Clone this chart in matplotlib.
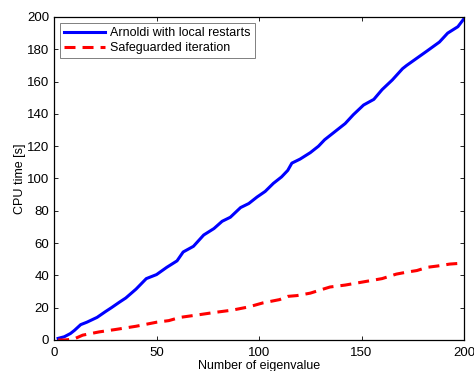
import matplotlib.pyplot as plt

# Arnoldi with local restarts (blue, solid)
arnoldi_n = [2, 5, 8, 10, 13, 16, 21, 25, 28, 32, 35, 40, 45, 50, 55, 60, 63, 68,
             73, 78, 82, 86, 91, 95, 99, 103, 107, 111, 114, 116, 120, 125, 129,
             132, 135, 138, 142, 146, 151, 156, 160, 165, 170, 172, 177, 182,
             188, 192, 197, 200]
arnoldi_t = [1, 2, 4, 6, 9.5, 11, 14, 17.5, 20, 23.5, 26, 31.5, 38, 40.5, 45, 49,
             54.5, 58, 65, 69, 73.5, 76, 82, 84.5, 88.5, 92, 97, 101, 105, 109.5,
             112, 116, 120, 124, 127, 130, 134, 139.5, 145.5, 149, 155, 161, 168,
             170, 174.5, 179, 184.5, 190, 194, 199]

# Safeguarded iteration (red, dashed)
safe_n = [2, 5, 9.5, 14, 22, 30, 40, 50, 56, 61.5, 70, 78, 87, 95, 102, 110,
          114, 118.5, 125, 130, 134.6, 142, 151, 160, 167, 172, 177, 182,
          187, 193, 199.5]
safe_t = [0, 0, 0.5, 3, 5, 6.5, 8.5, 11, 12, 14, 15.5, 17, 18.5, 20.5, 23, 25,
          27, 27.5, 29, 31, 32.8, 34, 36, 38, 40.8, 42, 43, 45, 45.8, 47, 47.6]

plt.rcParams['font.family'] = ['Liberation Sans', 'DejaVu Sans']
fig = plt.figure(figsize=(4.74, 3.71), dpi=100)
ax = fig.add_axes([0.114, 0.0836, 0.865, 0.8706])

ax.plot(arnoldi_n, arnoldi_t, color='#0000ff', lw=2.2,
        label='Arnoldi with local restarts')
ax.plot(safe_n, safe_t, color='#ff0000', lw=2.2, ls=(0, (3.6, 2.3)),
        label='Safeguarded iteration')

ax.set_xlim(0, 200)
ax.set_ylim(0, 200)
ax.set_xticks([0, 50, 100, 150, 200])
ax.set_yticks(range(0, 201, 20))
ax.tick_params(direction='in', top=True, right=True, labelsize=9.5, length=3,
               width=0.6)
ax.tick_params(axis='x', pad=5)
for s in ax.spines.values():
    s.set_linewidth(0.9)

ax.set_xlabel('Number of eigenvalue', fontsize=9, labelpad=1)
ax.set_ylabel('CPU time [s]', fontsize=9, labelpad=1)

leg = ax.legend(loc='upper left', fontsize=9, fancybox=False, framealpha=1,
                edgecolor='#808080', borderaxespad=0.45, handlelength=3.3,
                handletextpad=0.4, borderpad=0.35, labelspacing=0.25)
leg.get_frame().set_linewidth(0.7)

fig.savefig('out.png', dpi=100)
